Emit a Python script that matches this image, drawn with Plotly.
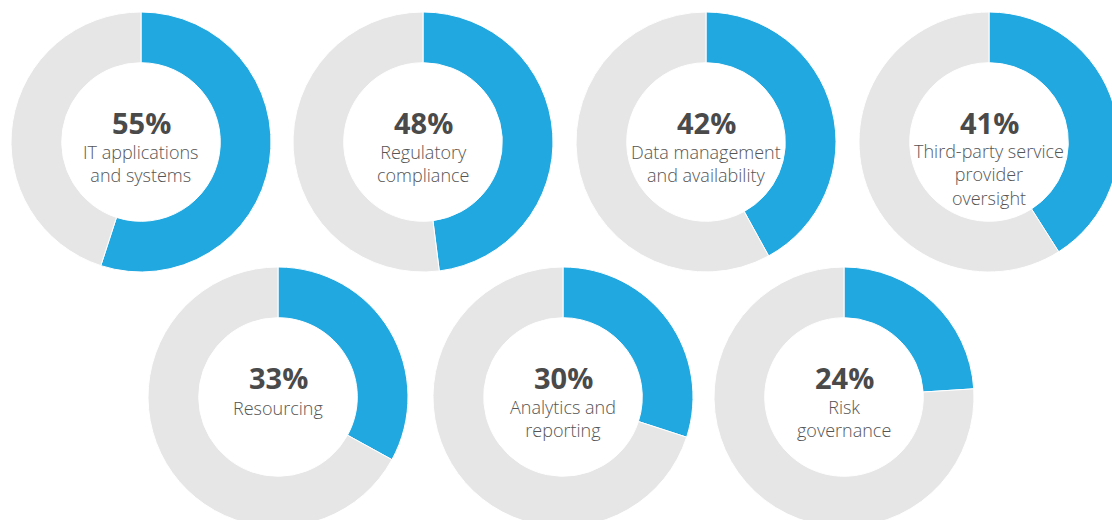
import plotly.graph_objects as go

# ---- data ----
categories = [
    "IT applications\nand systems",
    "Regulatory\ncompliance",
    "Data management\nand availability",
    "Third-party service\nprovider\noversight",
    "Resourcing",
    "Analytics and\nreporting",
    "Risk\ngovernance",
]
values = [55, 48, 42, 41, 33, 30, 24]

# ---- layout ----
W, H = 1124, 532            # figure slightly larger; the 1112x520 window crops the edges
R = 130
centers = [(141, 142), (423, 142), (706, 142), (989, 142),
           (278, 397), (563, 397), (844, 397)]
BLUE = "#21A8E0"
GREY = "#E6E6E6"
FONT = "Open Sans"

fig = go.Figure()
annotations = []
for cat, val, (cx, cy) in zip(categories, values, centers):
    x0, x1 = cx - R, cx + R
    y0, y1 = cy - R, cy + R  # from top
    fig.add_trace(go.Pie(
        values=[val, 100 - val],
        labels=[cat, "rest"],
        hole=0.61,
        sort=False,
        direction="clockwise",
        rotation=0,
        marker=dict(colors=[BLUE, GREY], line=dict(color="white", width=1)),
        textinfo="none",
        hoverinfo="skip",
        showlegend=False,
        domain=dict(x=[x0 / W, x1 / W], y=[1 - y1 / H, 1 - y0 / H]),
    ))
    annotations.append(dict(
        x=cx / W, y=1 - (cy - 20) / H, xref="paper", yref="paper",
        text=f"<b>{val}%</b>", showarrow=False, xanchor="center", yanchor="middle",
        font=dict(family=FONT, size=29, color="#4a4a4a"),
    ))
    lines = cat.split("\n")
    block_mid = cy + 11 + 21.5 * (len(lines) - 1) / 2
    annotations.append(dict(
        x=cx / W, y=1 - block_mid / H, xref="paper", yref="paper",
        text="<br>".join(lines), showarrow=False, xanchor="center", yanchor="middle",
        align="center",
        font=dict(family=FONT, size=18, color="#555555", weight=300),
    ))

fig.update_layout(
    width=W, height=H,
    margin=dict(l=0, r=0, t=0, b=0),
    paper_bgcolor="white", plot_bgcolor="white",
    annotations=annotations,
)

fig.write_html(
    "out.html",
    config={"displayModeBar": False},
    post_script=("document.documentElement.style.overflow='hidden';"
                 "document.body.style.overflow='hidden';"
                 "document.body.style.margin='0';"),
)
